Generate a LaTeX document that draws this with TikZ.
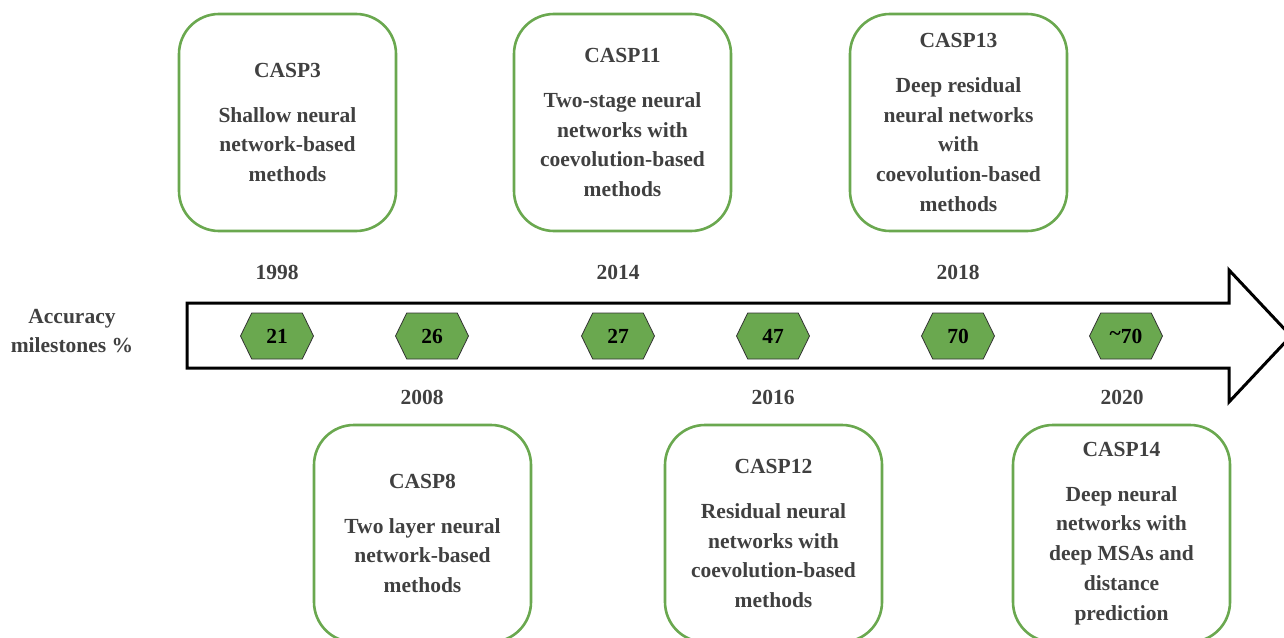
\documentclass[tikz,border=0pt]{standalone}
\usepackage{fontspec}
\setmainfont{Liberation Serif}
\usetikzlibrary{shapes.symbols}
\definecolor{leafgreen}{HTML}{6AA84F}
\definecolor{inkgray}{HTML}{404040}
\tikzset{
  era/.style={draw=leafgreen, line width=2.6pt, rounded corners=40pt,
    minimum width=217pt, minimum height=217pt, inner sep=0pt,
    text=inkgray, align=center,
    font=\fontsize{21.5}{29.7}\selectfont\bfseries},
  score/.style={shape=signal, signal to=west and east, signal pointer angle=128,
    fill=leafgreen, draw=black!80, line width=0.8pt,
    minimum width=73pt, minimum height=46pt, inner sep=0pt,
    font=\fontsize{21.5}{24}\selectfont\bfseries, text=black},
  yearlabel/.style={text=inkgray, font=\fontsize{21.5}{24}\selectfont\bfseries},
}
\begin{document}
\begin{tikzpicture}[x=1pt,y=-1pt]
\useasboundingbox (0,0) rectangle (1284,637);
\clip (0,0) rectangle (1284,637);

% timeline arrow
\draw[line width=3pt, line join=miter, fill=white]
  (187,303) -- (1229,303) -- (1229,270) -- (1291,336) -- (1229,402)
  -- (1229,368) -- (187,368) -- cycle;

% accuracy scores along the timeline
\node[score] (s21) at (277,336) {21};
\node[score] (s26) at (432,336) {26};
\node[score] (s27) at (618,336) {27};
\node[score] (s47) at (773,336) {47};
\node[score] (s70) at (958,336) {70};
\node[score] (s70b) at (1126,336) {\raisebox{0.12em}{\char"007E}70};

\node[yearlabel, align=center, font=\fontsize{21.5}{29.7}\selectfont\bfseries]
  (axis) at (72,331) {Accuracy\\milestones \%};

% years
\node[yearlabel] (y1998) at (277,272) {1998};
\node[yearlabel] (y2014) at (618,272) {2014};
\node[yearlabel] (y2018) at (958,272) {2018};
\node[yearlabel] (y2008) at (422,397) {2008};
\node[yearlabel] (y2016) at (773,397) {2016};
\node[yearlabel] (y2020) at (1122,397) {2020};

% CASP rounds
\node[era] (c3) at (287.5,122.5)
  {CASP3\\[15pt]Shallow neural\\network-based\\methods};
\node[era] (c11) at (622.5,122.5)
  {CASP11\\[15pt]Two-stage neural\\networks with\\coevolution-based\\methods};
\node[era] (c13) at (958.5,122.5)
  {CASP13\\[15pt]Deep residual\\neural networks\\with\\coevolution-based\\methods};
\node[era] (c8) at (422.5,533.5)
  {CASP8\\[15pt]Two layer neural\\network-based\\methods};
\node[era] (c12) at (773.5,533.5)
  {CASP12\\[15pt]Residual neural\\networks with\\coevolution-based\\methods};
\node[era] (c14) at (1121.5,533.5)
  {CASP14\\[15pt]Deep neural\\networks with\\deep MSAs and\\distance\\prediction};
\end{tikzpicture}
\end{document}
